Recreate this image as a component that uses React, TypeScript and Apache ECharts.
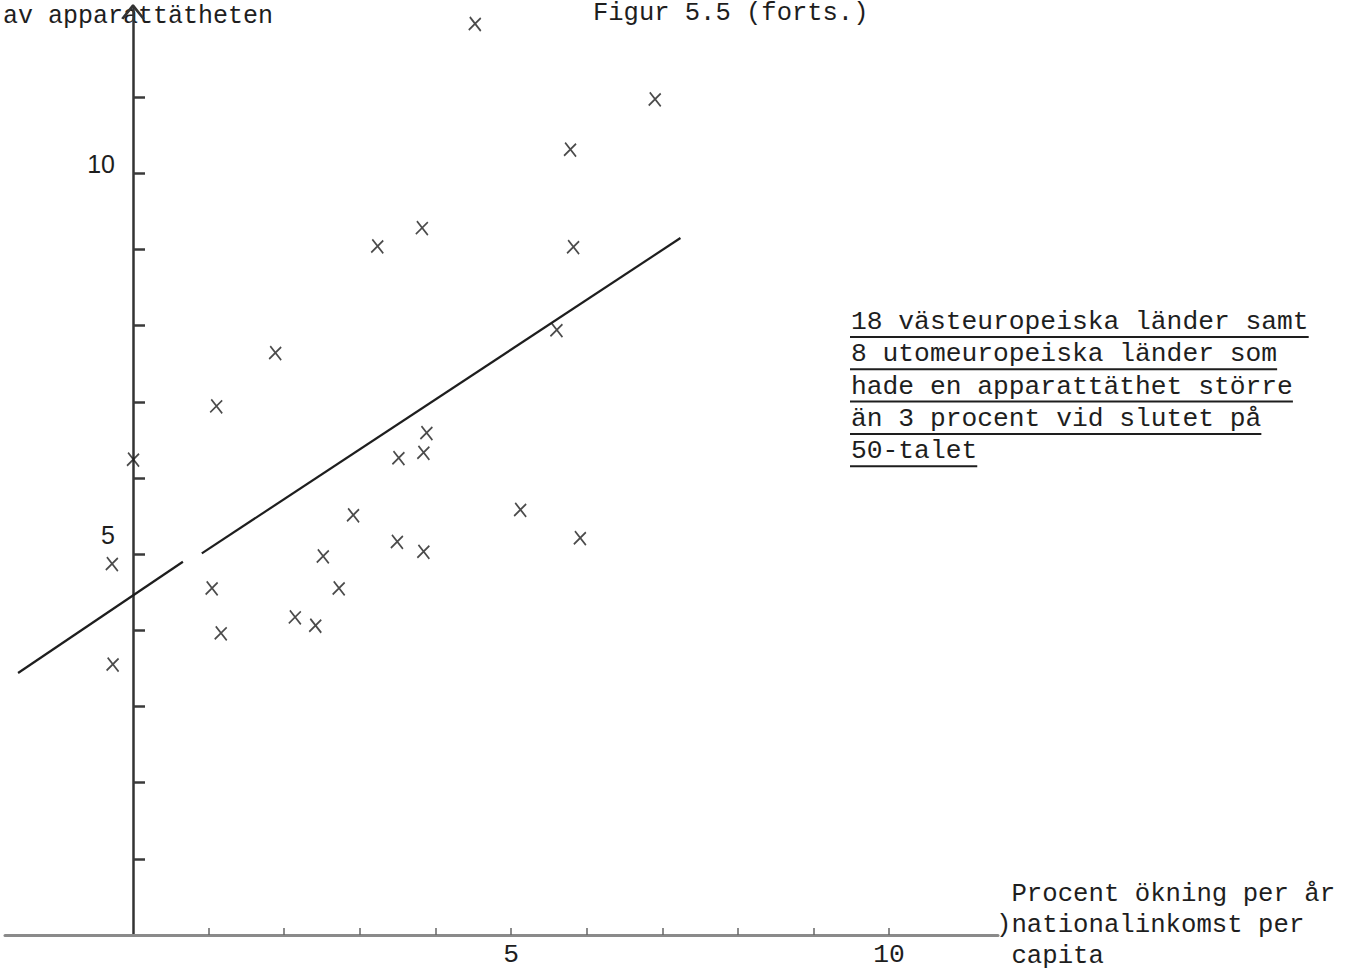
import React, { useEffect, useRef } from "react";
import * as echarts from "echarts";

// x: procent ökning per år av nationalinkomst per capita
const incomeGrowth = [
  4.52, 6.9, 5.78, 3.82, 3.23, 5.82, 5.6, 1.88, 1.1, 3.88, 3.84, 3.51, 0.0,
  2.91, 5.12, 3.49, 3.84, 5.91, 2.51, -0.28, 2.72, 1.04, 2.14, 2.41, 1.16, -0.27,
];
// y: procent ökning per år av apparattätheten
const densityGrowth = [
  11.96, 10.97, 10.31, 9.28, 9.04, 9.03, 7.94, 7.64, 6.94, 6.59, 6.33, 6.26, 6.24,
  5.51, 5.58, 5.16, 5.03, 5.21, 4.97, 4.87, 4.55, 4.55, 4.17, 4.06, 3.96, 3.55,
];

// regression line (drawn in two pieces, as in the original)
const trendSegmentA = [
  [-1.52, 3.44],
  [0.66, 4.9],
];
const trendSegmentB = [
  [0.91, 5.01],
  [7.24, 9.15],
];

const xTickValues = [1, 2, 3, 4, 5, 6, 7, 8, 9, 10];
const xLabelValues = [5, 10];
const yTickValues = [1, 2, 3, 4, 5, 6, 7, 8, 9, 10, 11];
const yLabelValues = [5, 10];

const figureTitle = "Figur 5.5 (forts.)";
const yAxisTitle = "av apparattätheten";
const xAxisTitleLines = [" Procent ökning per år", ")nationalinkomst per", " capita"];
const noteLines = [
  "18 västeuropeiska länder samt",
  "8 utomeuropeiska länder som",
  "hade en apparattäthet större",
  "än 3 procent vid slutet på",
  "50-talet",
];

export default function App() {
  const ref = useRef<HTMLDivElement>(null);

  useEffect(() => {
    if (!ref.current) return;
    const chart = echarts.init(ref.current, null, { renderer: "svg" });
    const mono = "'Liberation Mono', 'DejaVu Sans Mono', monospace";
    const sans = "'Liberation Sans', 'DejaVu Sans', sans-serif";
    const ink = "#1e1e1e";
    const noteFont = 26.3;
    const charW = noteFont * 0.6001;
    const noteX = 851;
    const noteY0 = 322;
    const noteStep = 32.3;

    const points = incomeGrowth.map((x, i) => [x, densityGrowth[i]]);

    const noteGraphics: any[] = [
      {
        type: "text",
        x: 3,
        y: 16,
        silent: true,
        z: 0,
        style: {
          text: yAxisTitle,
          font: `25px ${mono}`,
          fill: ink,
          align: "left",
          verticalAlign: "middle",
        },
      },
    ];
    noteLines.forEach((line, i) => {
      const y = noteY0 + i * noteStep;
      noteGraphics.push({
        type: "text",
        x: noteX,
        y,
        silent: true,
        style: {
          text: line,
          font: `${noteFont}px ${mono}`,
          fill: ink,
          align: "left",
          verticalAlign: "middle",
        },
      });
      noteGraphics.push({
        type: "line",
        silent: true,
        shape: { x1: noteX - 1, y1: y + 15, x2: noteX + line.length * charW, y2: y + 15 },
        style: { stroke: ink, lineWidth: 2 },
      });
    });

    const xName =
      xAxisTitleLines.map((l) => `{t|${l}}`).join("\n") + "\n{s| }";

    chart.setOption({
      animation: false,
      backgroundColor: "#ffffff",
      title: {
        text: figureTitle,
        left: 593,
        top: 0,
        padding: 0,
        textStyle: { fontFamily: mono, fontSize: 25.5, fontWeight: "normal", color: ink },
      },
      grid: {
        left: 5,
        right: 361,
        top: 8,
        bottom: 41,
        outerBoundsMode: "none",
        containLabel: false,
      },
      xAxis: {
        type: "value",
        min: -1.693,
        max: 11.44,
        name: xName,
        nameLocation: "end",
        nameGap: -2,
        nameTextStyle: {
          align: "left",
          verticalAlign: "middle",
          rich: {
            t: { fontFamily: mono, fontSize: 25.7, color: ink, lineHeight: 31 },
            s: { fontSize: 2, lineHeight: 20 },
          },
        },
        axisLine: { onZero: false, lineStyle: { color: "#8a8a8a", width: 3 } },
        axisTick: {
          customValues: xTickValues,
          inside: true,
          length: 7,
          lineStyle: { color: "#666666", width: 1.5 },
        },
        axisLabel: {
          customValues: xLabelValues,
          margin: 7,
          fontFamily: mono,
          fontSize: 26.3,
          color: ink,
        },
        splitLine: { show: false },
      },
      yAxis: {
        type: "value",
        min: 0,
        max: 12.17,
        offset: -128,
        axisLine: {
          onZero: false,
          symbol: ["none", "path://M0,15 L12,0 L14,0 L26,15 L23.5,16.5 L13,3.5 L2.5,16.5 Z"],
          symbolSize: [26, 15],
          symbolOffset: [0, -4],
          lineStyle: { color: "#333333", width: 2.5 },
        },
        axisTick: {
          customValues: yTickValues,
          inside: true,
          length: 12,
          lineStyle: { color: "#3a3a3a", width: 2.5 },
        },
        axisLabel: {
          customValues: yLabelValues,
          margin: 18,
          fontFamily: sans,
          fontSize: 25,
          color: ink,
          formatter: (v: number) => (v === 5 ? `{lo|${v}}` : `{hi|${v}}`),
          rich: {
            lo: { fontFamily: sans, fontSize: 25, color: ink, padding: [0, 0, 38, 0] },
            hi: { fontFamily: sans, fontSize: 25, color: ink, padding: [0, 0, 18, 0] },
          },
        },
        splitLine: { show: false },
      },
      series: [
        {
          type: "line",
          data: trendSegmentA,
          symbol: "none",
          silent: true,
          lineStyle: { color: ink, width: 2.2 },
        },
        {
          type: "line",
          data: trendSegmentB,
          symbol: "none",
          silent: true,
          lineStyle: { color: ink, width: 2.2 },
        },
        {
          type: "scatter",
          data: points,
          symbol: "path://M1,0 L11,14 M11,1 L0,13",
          symbolSize: [12, 14],
          silent: true,
          itemStyle: { color: "none", borderColor: ink, borderWidth: 1.8 },
        },
      ],
      graphic: noteGraphics,
    });

    return () => chart.dispose();
  }, []);

  return (
    <div
      ref={ref}
      style={{ position: "absolute", left: 0, top: 0, width: 1359, height: 976, background: "#fff" }}
    />
  );
}
